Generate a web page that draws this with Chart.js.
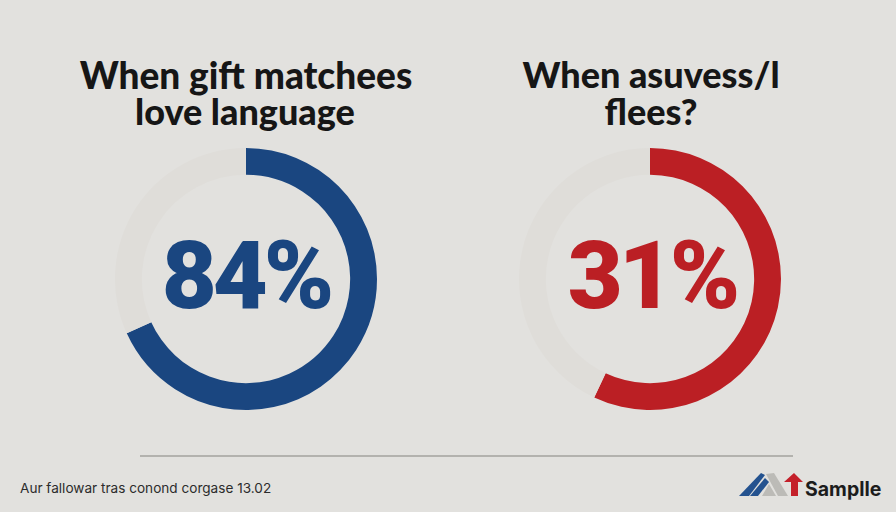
<!DOCTYPE html>
<html>
<head>
<meta charset="utf-8">
<script src="https://cdn.jsdelivr.net/npm/chart.js@4"></script>
<style>
  html, body { margin: 0; padding: 0; width: 896px; height: 512px; overflow: hidden; background: #e2e1de; }
  canvas, .t, .rule, svg { position: absolute; }
  .t { white-space: nowrap; line-height: 1; }
  .title { font: 900 36px Lato, sans-serif; color: #161616; width: 400px; text-align: center; }
  .pct { font: 900 95px Roboto, sans-serif; letter-spacing: -4px; width: 262px; text-align: center; }
  .rule { left: 140px; top: 455px; width: 653px; height: 1.5px; background: #b3b2ae; }
  .foot { left: 20px; top: 480px; font: 400 13.6px Inter, sans-serif; color: #2c2c2c; }
  .brand { left: 805px; top: 477px; font: 700 19.5px Inter, sans-serif; color: #1c1c1c; }
</style>
</head>
<body>
<canvas id="left" width="262" height="262" style="left:115px;top:148px"></canvas>
<canvas id="right" width="262" height="262" style="left:519px;top:148px"></canvas>

<div class="t title" id="t0a" style="left:46px;top:52px;font-size:37px"></div>
<div class="t title" id="t0b" style="left:45px;top:89px"></div>
<div class="t title" id="t1a" style="left:451px;top:52px"></div>
<div class="t title" id="t1b" style="left:451px;top:89px"></div>
<div class="t pct" id="p0" style="left:115px;top:220px;color:#1a4680"></div>
<div class="t pct" id="p1" style="left:521px;top:220px;color:#bb1f24"></div>

<div class="rule"></div>
<div class="t foot" id="foot"></div>

<svg width="70" height="30" style="left:735px;top:470px">
  <polygon fill="#24528f" points="4,26 26,3 30,5 14,26"/>
  <polygon fill="#24528f" points="15,26 30,8 34,12 23,26"/>
  <polygon fill="#bcbbb7" points="31,4 39,3 53,26 43,26"/>
  <polygon fill="#bcbbb7" points="27,26 34,14 41,26"/>
  <polygon fill="#c4202a" points="49,12 59,3 68,12 63,12 63,26 56,26 56,12"/>
</svg>
<div class="t brand" id="brand"></div>

<script>
const centerLabels = ["84%", "31%"];
const filledShare = [68.2, 57];
const emptyShare = [31.8, 43];
const ringColors = ["#1a4680", "#bb1f24"];
const trackColor = "#dfddd9";
const titles = [["When gift matchees", "love language"], ["When asuvess/l", "flees?"]];
const footnote = "Aur fallowar tras conond corgase 13.02";
const brand = "Samplle";

const setDonut = (canvasElement, filled, empty, color) =>
  new Chart(canvasElement, {
    type: "doughnut",
    data: {
      labels: ["filled", "rest"],
      datasets: [{ data: [filled, empty], backgroundColor: [color, trackColor], borderWidth: 0 }],
    },
    options: {
      responsive: false,
      animation: false,
      cutout: "79.5%",
      plugins: { legend: { display: false }, tooltip: { enabled: false } },
    },
  });

setDonut(document.getElementById("left"), filledShare[0], emptyShare[0], ringColors[0]);
setDonut(document.getElementById("right"), filledShare[1], emptyShare[1], ringColors[1]);

titles.forEach((lines, i) => {
  document.getElementById("t" + i + "a").textContent = lines[0];
  document.getElementById("t" + i + "b").textContent = lines[1];
  document.getElementById("p" + i).textContent = centerLabels[i];
});
document.getElementById("foot").textContent = footnote;
document.getElementById("brand").textContent = brand;
</script>
</body>
</html>
